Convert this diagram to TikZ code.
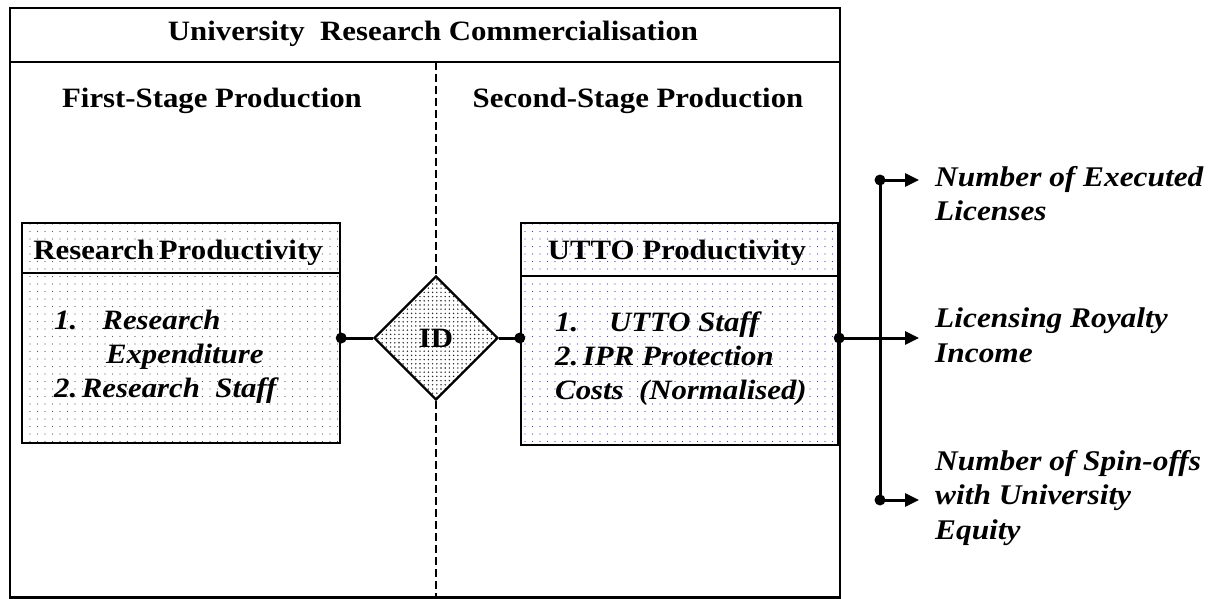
\documentclass[tikz,border=0pt]{standalone}
\usepackage{fontspec}
\setmainfont{Liberation Serif}[FakeStretch=1.1]
\usetikzlibrary{shapes.geometric,patterns.meta,arrows.meta}
\tikzset{
  frame/.style={draw=black, line width=2.2pt},
  boxpart/.style={draw=black, line width=2.4pt, minimum width=318pt, inner sep=0pt},
  blackdots/.style={pattern={Dots[radius=0.7pt, distance=7.5pt]}, pattern color=black!65},
  bluedots/.style={pattern={Dots[radius=0.7pt, distance=7.5pt]}, pattern color=blue!50!gray},
  densedots/.style={pattern={Dots[radius=0.8pt, distance=4.2pt]}, pattern color=black!85},
  heading/.style={font=\fontsize{28}{32}\selectfont\bfseries, inner sep=0pt},
  itemtext/.style={font=\fontsize{28}{34}\selectfont\bfseries\itshape, inner sep=0pt, anchor=west, align=left},
  outtext/.style={font=\fontsize{28.5}{34.5}\selectfont\bfseries\itshape, inner sep=0pt, anchor=north west, align=left},
  conn/.style={line width=3pt},
  arr/.style={line width=3pt, -{Triangle[length=14pt,width=13pt]}},
  dot/.style={circle, fill=black, inner sep=0pt, minimum size=11pt},
  dashline/.style={line width=1.8pt, dash pattern=on 8pt off 4pt},
}
\begin{document}
\begin{tikzpicture}[x=1pt, y=-1pt]
\useasboundingbox (0,0) rectangle (1210,599);
% diamond (defined first to stop the dashed line at it)
\node[diamond, draw=black, line width=2.4pt, densedots, minimum width=124pt, minimum height=124pt, inner sep=0pt] (id) at (436,338) {};
\node[font=\fontsize{28}{32}\selectfont\bfseries, inner sep=0pt] at (id.center) {ID};
% outer frame
\draw[frame] (10,8) rectangle (840,597.5);
\draw[frame] (10,62) -- (840,62);
\node[heading] (title) at (433,34) {University\ \ Research Commercialisation};
\coordinate (dtop) at (436,62);
\coordinate (dbot) at (436,597.5);
\draw[dashline] (dtop) -- (id.north);
\draw[dashline] (id.south) -- (dbot);
\node[heading] (first) at (212,101) {First-Stage Production};
\node[heading] (second) at (638,101) {Second-Stage Production};
% left box
\node[boxpart, blackdots, minimum height=50pt] (lhead) at (181,248) {};
\node[boxpart, blackdots, minimum height=170pt] (lbody) at (181,358) {};
\node[heading] at (178,253) {Research\,Productivity};
\node[itemtext] (ltext) at (54,357) {1.\hspace{0.9em}Research\\\hspace{1.85em}Expenditure\\2.\,Research\ \ Staff};
% right box
\node[boxpart, bluedots, minimum width=317pt, minimum height=53pt] (rhead) at (679.5,249.5) {};
\node[boxpart, bluedots, minimum width=317pt, minimum height=169pt] (rbody) at (679.5,360.5) {};
\node[heading] at (677,253) {UTTO Productivity};
\node[itemtext] (rtext) at (555,359) {1.\hspace{1.1em}UTTO Staff\\2.\,IPR Protection\\Costs\ \ (Normalised)};
% connectors
\draw[conn] (lbody.east |- id.west) -- (id.west);
\node[dot] at (lbody.east |- id.west) {};
\draw[conn] (id.east) -- (rbody.west |- id.east);
\node[dot] at (rbody.west |- id.east) {};
% outputs
\coordinate (bustop) at (880,180);
\coordinate (busbot) at (880,500);
\coordinate (busmid) at (880,338);
\node[outtext] (o1) at (935,166) {Number of Executed\\Licenses};
\node[outtext] (o2) at (935,308) {Licensing Royalty\\Income};
\node[outtext] (o3) at (935,450) {Number of Spin-offs\\with University\\Equity};
\draw[conn] (bustop) -- (busbot);
\draw[arr] (rbody.east |- busmid) -- ([xshift=-16pt]busmid -| o2.west);
\node[dot] at (rbody.east |- busmid) {};
\draw[arr] (bustop) -- ([xshift=-16pt]bustop -| o1.west);
\draw[arr] (busbot) -- ([xshift=-16pt]busbot -| o3.west);
\node[dot] at (bustop) {};
\node[dot] at (busbot) {};
\end{tikzpicture}
\end{document}
